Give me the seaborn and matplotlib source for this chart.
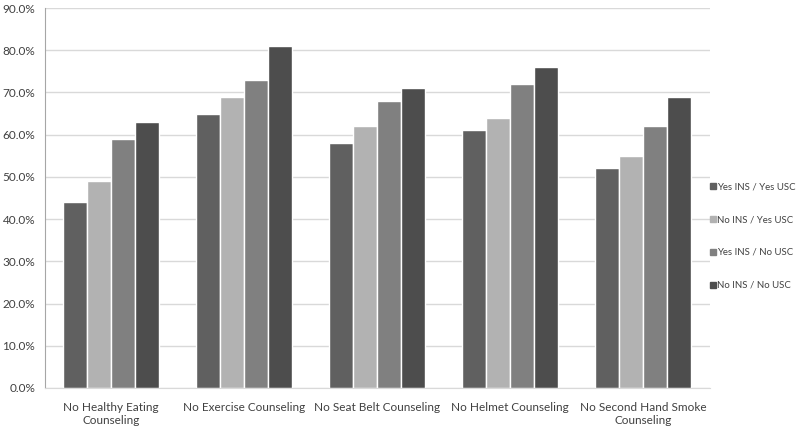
import matplotlib
matplotlib.use("Agg")
import matplotlib.pyplot as plt
import seaborn as sns
import pandas as pd
import numpy as np
from matplotlib.ticker import FuncFormatter, FixedLocator
from matplotlib.lines import Line2D

categories = ["No Healthy Eating\nCounseling", "No Exercise Counseling", "No Seat Belt Counseling",
              "No Helmet Counseling", "No Second Hand Smoke\nCounseling"]
series = ["Yes INS / Yes USC", "No INS / Yes USC", "Yes INS / No USC", "No INS / No USC"]
yes_yes = [44, 65, 58, 61, 52]
no_yes = [49, 69, 62, 64, 55]
yes_no = [59, 73, 68, 72, 62]
no_no = [63, 81, 71, 76, 69]
colors = ["#606060", "#b2b2b2", "#808080", "#4d4d4d"]

rows = []
for s, vals in zip(series, [yes_yes, no_yes, yes_no, no_no]):
    for c, v in zip(categories, vals):
        rows.append({"cat": c, "series": s, "value": v})
df = pd.DataFrame(rows)

sns.set_style("white")
plt.rcParams['font.family'] = ['Lato', 'DejaVu Sans']

fig = plt.figure(figsize=(8, 4.33), dpi=100)
ax = fig.add_axes([0.056, 0.104, 0.831, 0.8775])
sns.barplot(data=df, x="cat", y="value", hue="series", palette=colors, ax=ax,
            width=0.72, saturation=1, legend=False)

ax.set_ylim(0, 90)
ax.set_xlim(-0.5, 4.5)
ax.set_yticks(np.arange(0, 91, 10))
ax.yaxis.set_major_formatter(FuncFormatter(lambda v, p: f"{v:.1f}%"))
ax.set_xlabel("")
ax.set_ylabel("")
ax.grid(axis="y", color="#d9d9d9", linewidth=1)
ax.set_axisbelow(True)
for s in ["top", "right"]:
    ax.spines[s].set_visible(False)
ax.spines["left"].set_color("#a6a6a6")
ax.spines["bottom"].set_color("#d9d9d9")
ax.tick_params(axis="y", labelsize=8.5, colors="#404040", length=4, color="#a6a6a6", pad=3)
ax.tick_params(axis="x", which="major", labelsize=8.5, colors="#404040", length=0, pad=10)
ax.xaxis.set_minor_locator(FixedLocator([0.5, 1.5, 2.5, 3.5, 4.5]))
ax.tick_params(axis="x", which="minor", length=4, color="#d9d9d9")

handles = [Line2D([], [], marker="s", linestyle="", markersize=4.5, color=c) for c in colors]
leg = fig.legend(handles, series, loc="center left", bbox_to_anchor=(0.886, 0.455),
                 frameon=False, fontsize=6.9, handletextpad=0.1, labelspacing=2.5,
                 handlelength=0.8, borderpad=0, borderaxespad=0)
for t in leg.get_texts():
    t.set_color("#404040")

fig.savefig("out.png", dpi=100)
